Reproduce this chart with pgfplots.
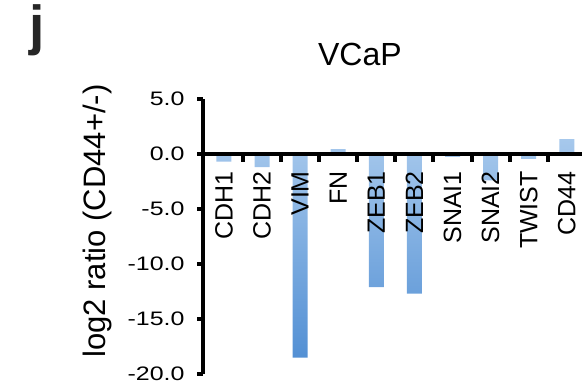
\documentclass[border=0pt]{standalone}
\usepackage{pgfplots}
\pgfplotsset{compat=1.18}
\usepackage{graphicx}
\usepackage{fontspec}
\setmainfont{Liberation Sans}
\definecolor{bartop}{HTML}{A6C8EC}
\definecolor{barbot}{HTML}{5390D4}
\begin{document}
\begin{tikzpicture}[x=1bp,y=1bp]
\path[use as bounding box] (0,0) rectangle (582,385);
\node[anchor=base, font=\fontsize{55bp}{60bp}\selectfont\bfseries, text=black!85] at (37,341) {j};
\begin{axis}[
  at={(203bp,11bp)}, anchor=south west,
  scale only axis, width=379bp, height=275bp,
  xmin=-0.55, xmax=9.4, ymin=-20, ymax=5,
  axis x line*=middle, axis y line*=left,
  x axis line style={line width=4bp, black},
  y axis line style={line width=4bp, black},
  axis on top,
  clip=false,
  ytick={5,0,-5,-10,-15,-20},
  yticklabels={\scalebox{1.28}[1]{5.0},\scalebox{1.28}[1]{0.0},\scalebox{1.28}[1]{-5.0},\scalebox{1.28}[1]{-10.0},\scalebox{1.28}[1]{-15.0},\scalebox{1.28}[1]{-20.0}},
  yticklabel style={font=\fontsize{19.5bp}{22bp}\selectfont, anchor=east, xshift=-9bp},
  tick align=outside,
  major tick length=6bp,
  every major tick/.append style={line width=4bp, black},
  ytick style={line width=4bp, black},
  xtick={0,...,9},
  xticklabels={CDH1,CDH2,VIM,FN,ZEB1,ZEB2,SNAI1,SNAI2,TWIST,CD44},
  major x tick style={draw=none},
  xticklabel style={rotate=90, anchor=east, inner sep=1bp, xshift=-10bp, font=\fontsize{25bp}{28bp}\selectfont},
  every axis y label/.style={at={(axis description cs:-0.278,0.556)}, rotate=90, anchor=center},
  ylabel={\fontsize{31bp}{34bp}\selectfont log2 ratio (CD44+/-)},
  every axis title/.style={at={(axis description cs:0.414,1.1236)}, anchor=base},
  title={\fontsize{32bp}{36bp}\selectfont VCaP},
]
\addplot[ybar, bar width=15bp, draw=none, top color=bartop, bottom color=barbot]
  coordinates {(0,-0.7) (1,-1.2) (2,-18.5) (3,0.45) (4,-12.1) (5,-12.7) (6,-0.25) (7,-2.4) (8,-0.45) (9,1.35)};
\pgfplotsinvokeforeach{0.5,1.5,2.5,3.5,4.5,5.5,6.5,7.5,8.5}{
  \draw[line width=4bp, black] (axis cs:#1,0) -- ([yshift=-8bp]axis cs:#1,0);
}
\end{axis}
\end{tikzpicture}
\end{document}
